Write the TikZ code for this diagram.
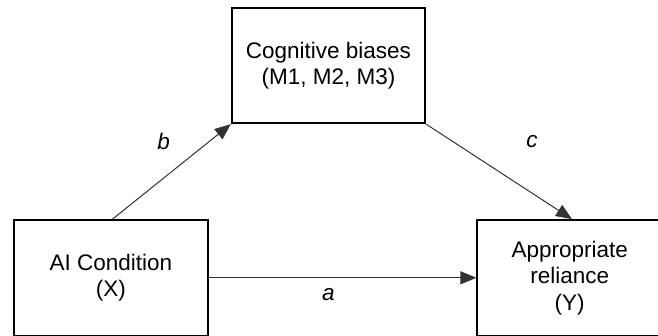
\documentclass[tikz,border=0pt]{standalone}
\usepackage{fontspec}
\setmainfont{Liberation Sans}
\usetikzlibrary{arrows.meta,calc}
\begin{document}
\begin{tikzpicture}[x=1pt,y=-1pt,
  box/.style={draw=black,line width=1.8pt,align=center,inner sep=0pt,
    font=\fontsize{22.5}{26.6}\selectfont},
  link/.style={draw=black!80,line width=1pt,
    -{Triangle[length=16pt,width=13pt]}},
  pathlabel/.style={font=\fontsize{22.5}{26.6}\selectfont\itshape}]
  \clip (0,0) rectangle (658,336);
  \fill[white] (0,0) rectangle (658,336);

  % variables
  \node[box,minimum width=193.6pt,minimum height=115pt] (med) at (328.5,65.8)
    {Cognitive biases\\(M1, M2, M3)};
  \node[box,minimum width=193.7pt,minimum height=115.5pt] (x) at (110.8,277.8)
    {AI Condition\\(X)};
  \node[box,minimum width=184.8pt,minimum height=115.5pt] (y) at (569.7,277.8)
    {Appropriate\\reliance\\(Y)};

  % paths
  \draw[link] ($(x.north)+(1.7,0)$) -- (med.south west);
  \draw[link] (med.south east) -- ($(y.north)+(2.3,0)$);
  \draw[link] (x.east) -- (y.west);

  % path labels
  \node[pathlabel] (lb) at (163.7,141) {b};
  \node[pathlabel] (lc) at (532,141.7) {c};
  \node[pathlabel] (la) at (328.3,295) {a};
\end{tikzpicture}
\end{document}
